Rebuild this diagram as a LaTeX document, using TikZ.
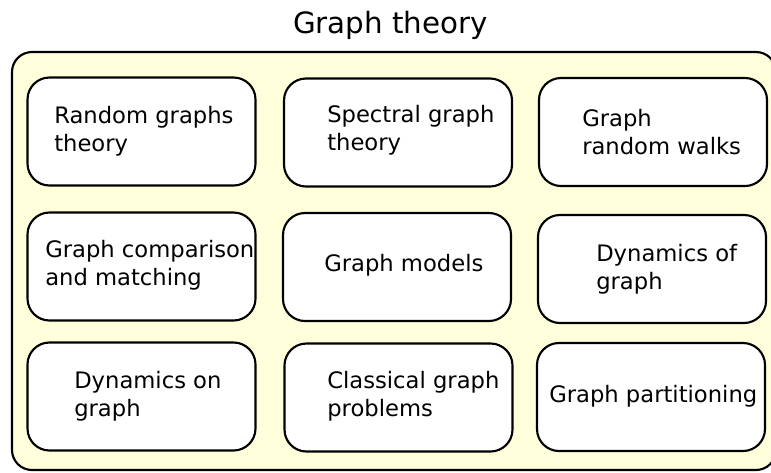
\documentclass[tikz,border=0pt]{standalone}
\usepackage{fontspec}
\setmainfont{DejaVu Sans}
\definecolor{fondo}{RGB}{255,255,220}
\tikzset{
  tema/.style={draw, line width=1.6pt, rounded corners=16.5pt, fill=white,
    minimum width=171pt, minimum height=81pt, outer sep=0pt},
  texto/.style={anchor=west, align=left, inner sep=0pt,
    font=\fontsize{17}{21}\selectfont},
}
\begin{document}
\begin{tikzpicture}[x=0.75pt, y=-0.75pt]
                % Marco
                \clip (0,0) rectangle (771,472);
                \useasboundingbox (0,0) rectangle (771,472);

                % Titulo y fondo
                \node[font=\fontsize{22}{26}\selectfont] (titulo) at (390.5,25) {Graph theory};
                \draw[line width=1.6pt, rounded corners=15pt, fill=fondo] (12,52) rectangle (776,470);

                % Cajas
                \node[tema] (b1) at (141.5,131.5) {};
                \node[tema] (b2) at (398,132.5) {};
                \node[tema] (b3) at (653,132) {};
                \node[tema] (b4) at (141.5,266.5) {};
                \node[tema] (b5) at (397,267) {};
                \node[tema] (b6) at (652,269) {};
                \node[tema] (b7) at (141.5,396.5) {};
                \node[tema] (b8) at (398.5,397.5) {};
                \node[tema] (b9) at (651,397) {};

                % Textos
                \node[texto] (t1) at (54,131) {Random graphs\\theory};
                \node[texto] (t2) at (327,130) {Spectral graph\\theory};
                \node[texto] (t3) at (582,132) {Graph\\random walks};
                \node[texto] (t4) at (45,265) {Graph comparison\\and matching};
                \node[texto] (t5) at (324,265) {Graph models};
                \node[texto] (t6) at (596,269) {Dynamics of\\graph};
                \node[texto] (t7) at (74,396) {Dynamics on\\graph};
                \node[texto] (t8) at (327,396) {Classical graph\\problems};
                \node[texto] (t9) at (549,396) {Graph partitioning};
            \end{tikzpicture}
\end{document}
